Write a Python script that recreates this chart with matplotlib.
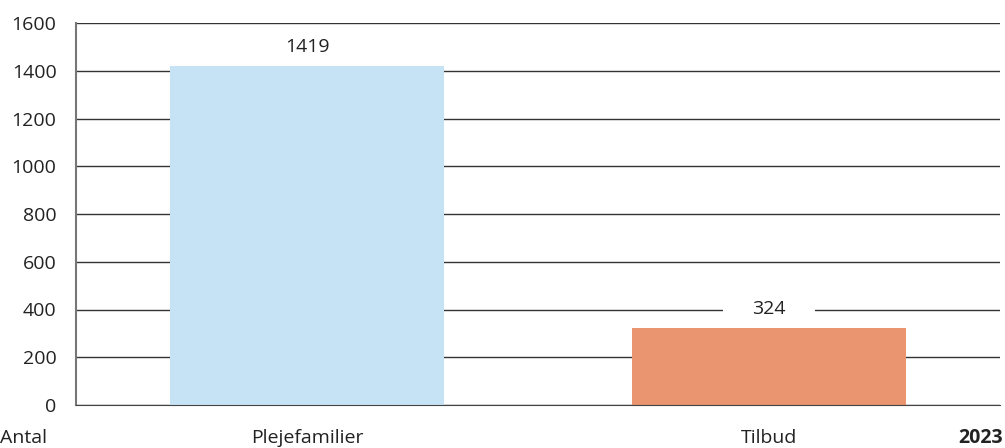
import matplotlib
matplotlib.use('Agg')
import matplotlib.pyplot as plt

# Data
categories = ['Plejefamilier', 'Tilbud']
values = [1419, 324]
colors = ['#c6e3f5', '#ea9470']
yticks = [0, 200, 400, 600, 800, 1000, 1200, 1400, 1600]

plt.rcParams['font.family'] = ['Open Sans', 'DejaVu Sans']
fs = 14

fig = plt.figure(figsize=(10.05, 4.48), dpi=100)
ax = fig.add_axes([76 / 1005, 1 - 405 / 448, 924 / 1005, 382 / 448])

x = list(range(len(categories)))
ax.bar(x, values, width=0.595, color=colors, zorder=2)

# Value labels with white box that cuts the gridline
for xi, v in zip(x, values):
    ax.annotate(str(v), (xi, v), xytext=(0, 7), textcoords='offset points',
                ha='center', va='bottom', fontsize=fs, color='#222222', zorder=3,
                bbox=dict(boxstyle='square,pad=0.2', facecolor='white', edgecolor='none'))
    # wider white gap around label
    ax.annotate('\u2007' * 8, (xi, v), xytext=(0, 7), textcoords='offset points',
                ha='center', va='bottom', fontsize=fs, color='white', zorder=2.5,
                bbox=dict(boxstyle='square,pad=0.1', facecolor='white', edgecolor='none'))

ax.set_xlim(-0.5, 1.5)
ax.set_ylim(0, 1600)
ax.set_yticks(yticks)
ax.set_yticklabels([str(t) for t in yticks], fontsize=fs, color='#222222')
ax.tick_params(axis='y', length=0, pad=14)
ax.set_xticks(x)
ax.set_xticklabels(categories, fontsize=fs, color='#222222')
ax.tick_params(axis='x', length=0, pad=17)

ax.grid(axis='y', color='#333333', linewidth=1, zorder=1)
ax.set_axisbelow(True)
for side in ['top', 'right']:
    ax.spines[side].set_visible(False)
ax.spines['left'].set_color('#777777')
ax.spines['left'].set_linewidth(1.5)
ax.spines['bottom'].set_color('#444444')

fig.text(0 / 1005, 1 - 438 / 448, 'Antal', fontsize=fs, color='#222222', ha='left', va='center')
fig.text(1003 / 1005, 1 - 438 / 448, '2023', fontsize=fs, fontweight='bold', color='#222222',
         ha='right', va='center')

fig.savefig('out.png', dpi=100)
